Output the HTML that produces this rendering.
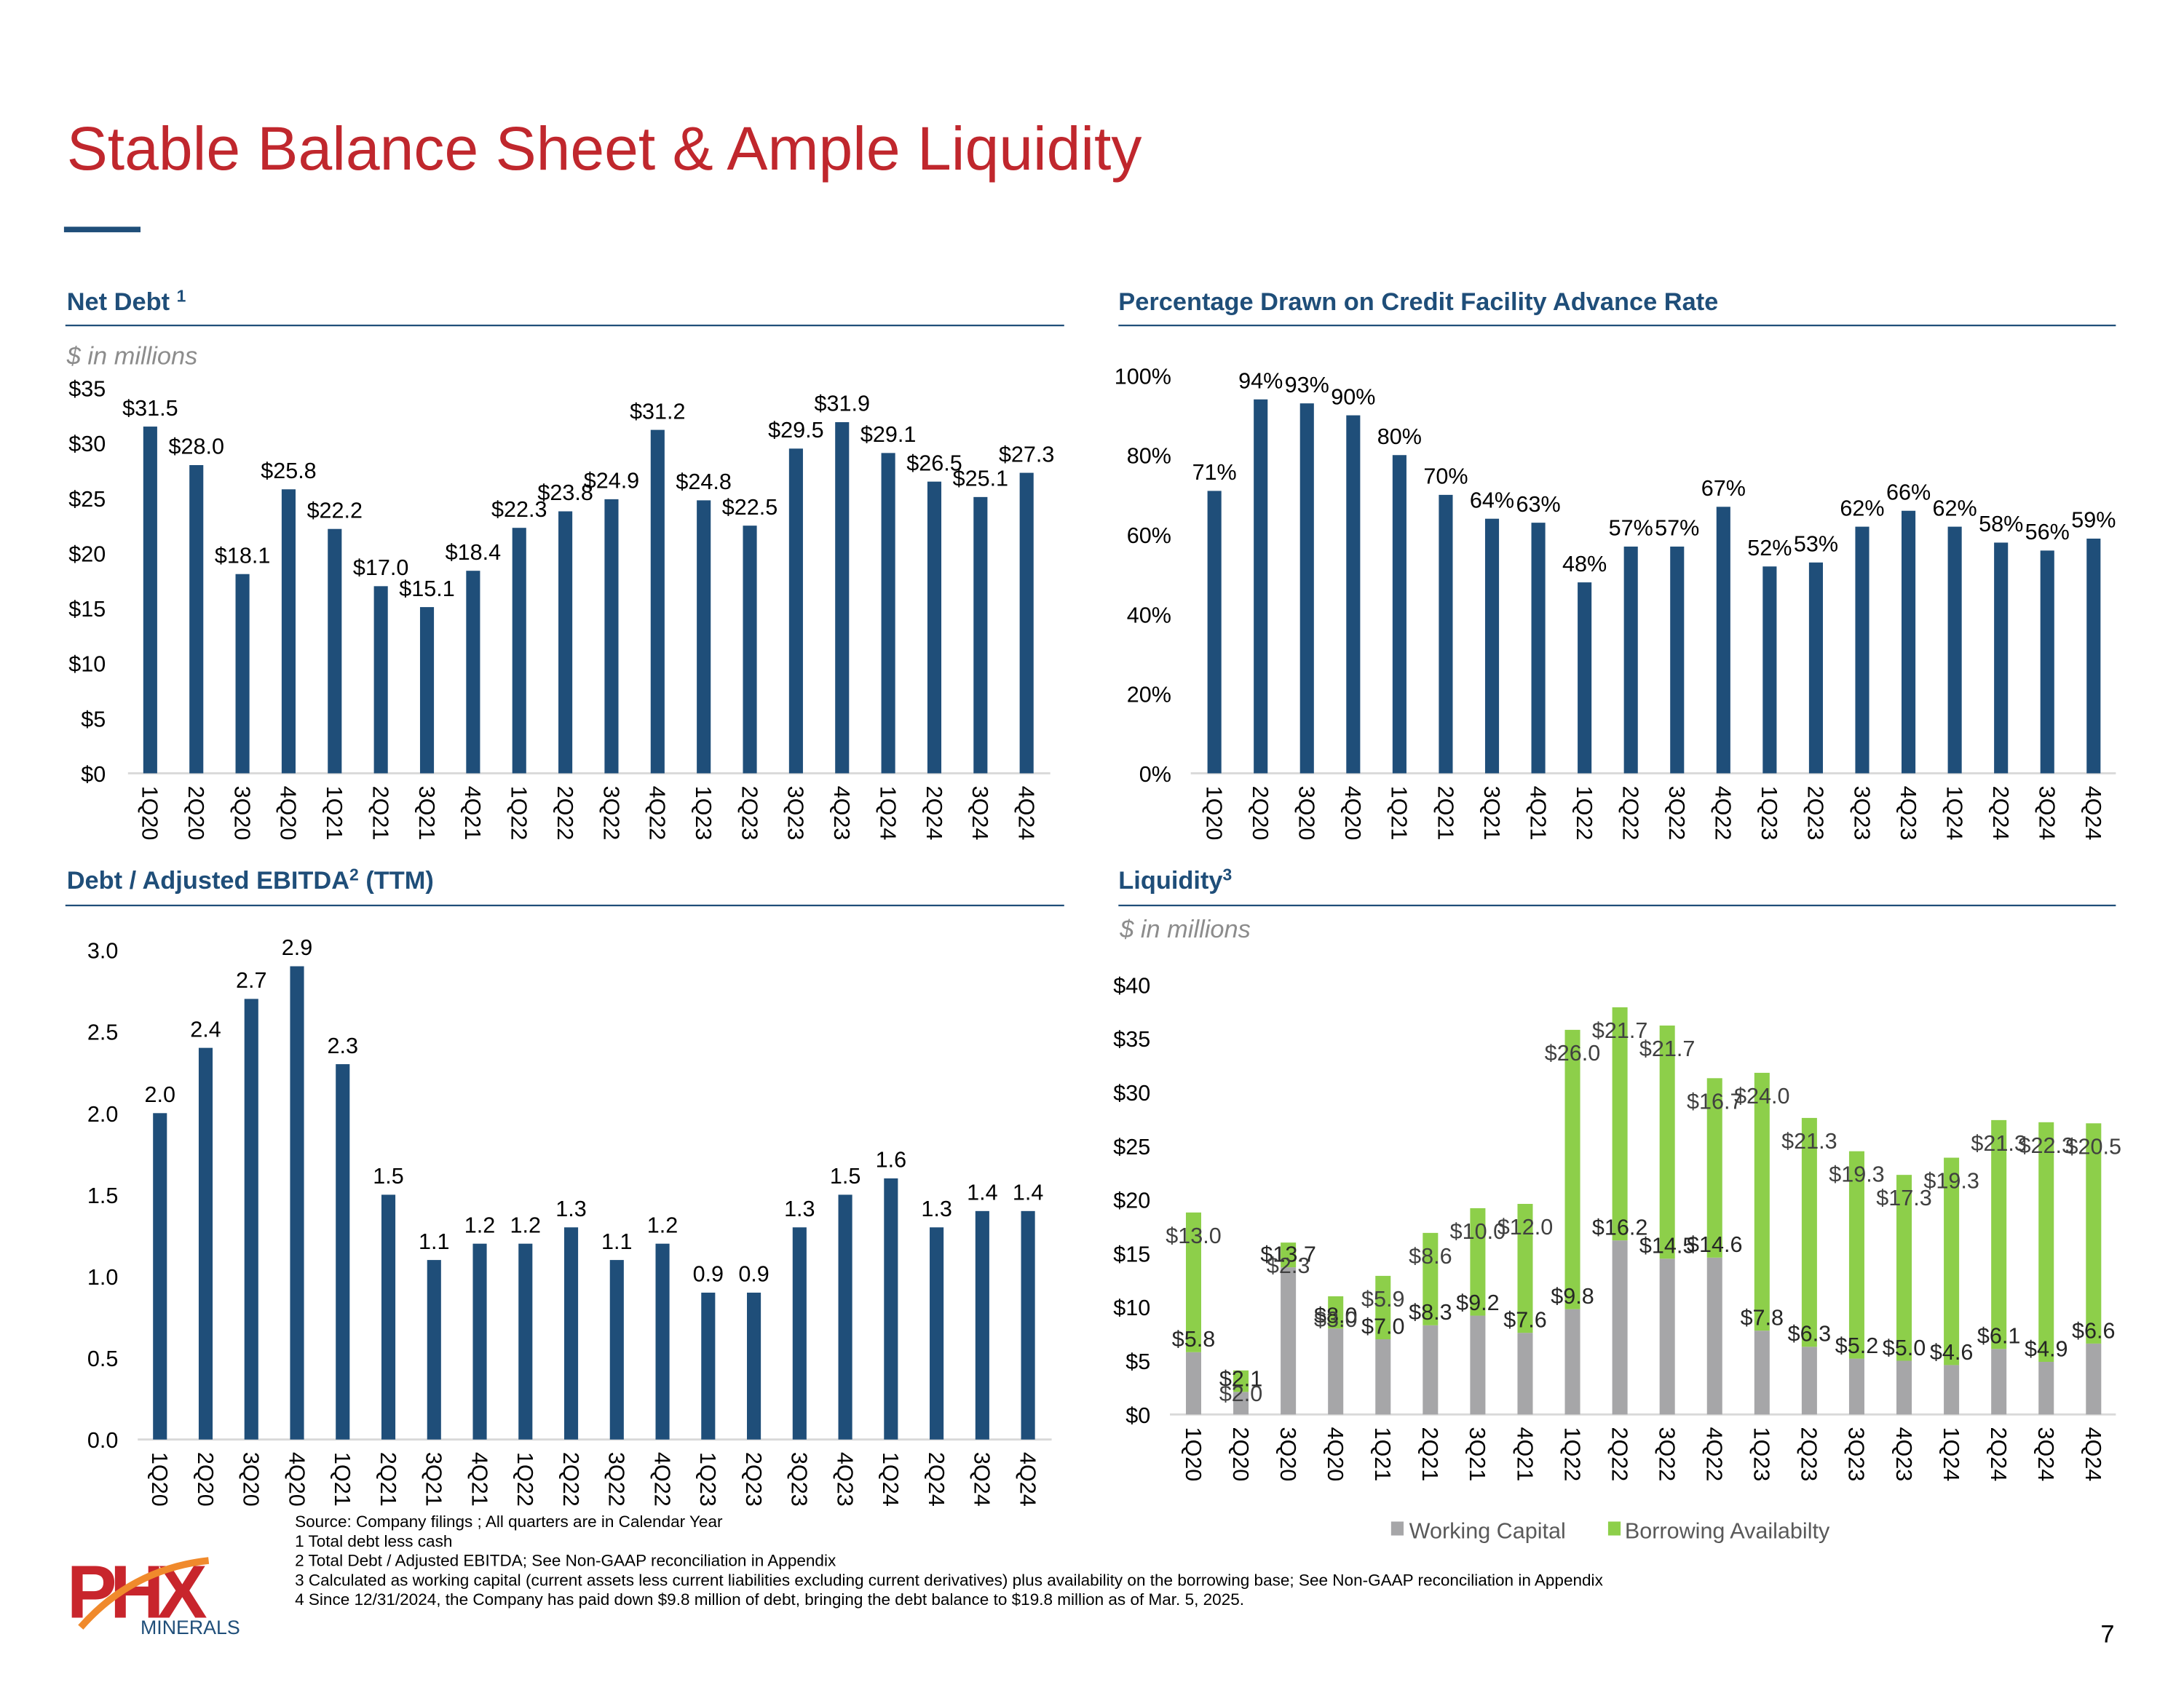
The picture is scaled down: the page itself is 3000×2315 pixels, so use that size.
<!DOCTYPE html>
<html><head><meta charset="utf-8"><style>
html,body{margin:0;padding:0;background:#fff;}
svg{display:block;font-family:"Liberation Sans",Arial,sans-serif;}
</style></head><body>
<svg id="s" width="3000" height="2315" viewBox="0 0 1570 1211.5" xmlns="http://www.w3.org/2000/svg">
<text x="48" y="122" font-size="44" fill="#c0272d">Stable Balance Sheet &amp; Ample Liquidity</text>
<rect x="46" y="163" width="55" height="4" fill="#1f4e79"/>
<text x="48" y="223" font-size="18" font-weight="bold" fill="#1f4e79">Net Debt <tspan font-size="12" dy="-6">1</tspan></text>
<line x1="47" y1="234" x2="765" y2="234" stroke="#1f4e79" stroke-width="1.2"/>
<text x="804" y="223" font-size="18" font-weight="bold" fill="#1f4e79">Percentage Drawn on Credit Facility Advance Rate</text>
<line x1="804" y1="234" x2="1521" y2="234" stroke="#1f4e79" stroke-width="1.2"/>
<text x="48" y="639" font-size="18" font-weight="bold" fill="#1f4e79">Debt / Adjusted EBITDA<tspan font-size="12" dy="-6">2</tspan><tspan dy="6"> (TTM)</tspan></text>
<line x1="47" y1="651" x2="765" y2="651" stroke="#1f4e79" stroke-width="1.2"/>
<text x="804" y="639" font-size="18" font-weight="bold" fill="#1f4e79">Liquidity<tspan font-size="12" dy="-6">3</tspan></text>
<line x1="804" y1="651" x2="1521" y2="651" stroke="#1f4e79" stroke-width="1.2"/>
<text x="48" y="262" font-size="18" font-style="italic" fill="#8c8c8c">$ in millions</text>
<text x="805" y="674" font-size="18" font-style="italic" fill="#8c8c8c">$ in millions</text>
<g id="charts"></g>
<rect x="1000" y="1094" width="9" height="10" fill="#a6a6a8"/>
<text x="1013" y="1106" font-size="16" fill="#595959">Working Capital</text>
<rect x="1156" y="1094" width="9" height="10" fill="#8dcf4a"/>
<text x="1168" y="1106" font-size="16" fill="#595959">Borrowing Availabilty</text>
<g font-size="11.8" fill="#000">
<text x="212" y="1098">Source: Company filings ; All quarters are in Calendar Year</text>
<text x="212" y="1112">1 Total debt less cash</text>
<text x="212" y="1126">2 Total Debt / Adjusted EBITDA;  See Non-GAAP reconciliation in Appendix</text>
<text x="212" y="1140">3 Calculated as working capital (current assets less current liabilities excluding current derivatives) plus availability on the borrowing base; See Non-GAAP reconciliation in Appendix</text>
<text x="212" y="1154">4 Since 12/31/2024, the Company has paid down $9.8 million of debt, bringing the debt balance to $19.8 million as of Mar. 5, 2025.</text>
</g>
<g>
<text x="48" y="1163" font-size="54" font-weight="bold" fill="#c8252c" letter-spacing="-5">PHX</text>
<path d="M58 1170 Q95 1128 150 1122" stroke="#f08a2c" stroke-width="5" fill="none"/>
<text x="101" y="1175" font-size="14" fill="#1f4e79">MINERALS</text>
</g>
<text x="1510" y="1181" font-size="18" fill="#000">7</text>
</svg>
<script>
const quarters=["1Q20","2Q20","3Q20","4Q20","1Q21","2Q21","3Q21","4Q21","1Q22","2Q22","3Q22","4Q22","1Q23","2Q23","3Q23","4Q23","1Q24","2Q24","3Q24","4Q24"];
const netDebt=[31.5,28.0,18.1,25.8,22.2,17.0,15.1,18.4,22.3,23.8,24.9,31.2,24.8,22.5,29.5,31.9,29.1,26.5,25.1,27.3];
const netDebtTicks=[0,5,10,15,20,25,30,35];
const pctDrawn=[71,94,93,90,80,70,64,63,48,57,57,67,52,53,62,66,62,58,56,59];
const pctTicks=[0,20,40,60,80,100];
const debtEbitda=[2.0,2.4,2.7,2.9,2.3,1.5,1.1,1.2,1.2,1.3,1.1,1.2,0.9,0.9,1.3,1.5,1.6,1.3,1.4,1.4];
const ebitdaTicks=[0,0.5,1.0,1.5,2.0,2.5,3.0];
const workingCapital=[5.8,2.1,13.7,8.0,7.0,8.3,9.2,7.6,9.8,16.2,14.5,14.6,7.8,6.3,5.2,5.0,4.6,6.1,4.9,6.6];
const borrowing=[13.0,2.0,2.3,3.0,5.9,8.6,10.0,12.0,26.0,21.7,21.7,16.7,24.0,21.3,19.3,17.3,19.3,21.3,22.3,20.5];
const liqTicks=[0,5,10,15,20,25,30,35,40];

const NS="http://www.w3.org/2000/svg";
const root=document.getElementById('charts');
function mk(tag,attrs,parent,txt){const e=document.createElementNS(NS,tag);for(const k in attrs)e.setAttribute(k,attrs[k]);if(txt!==undefined)e.textContent=txt;(parent||root).appendChild(e);return e;}

function chart(cfg){
  const g=mk('g',{});
  
  
  const y=v=>cfg.y0-(v-cfg.vmin)/(cfg.vmax-cfg.vmin)*(cfg.y0-cfg.y1);
  const x=i=>cfg.x0+i*(cfg.x1-cfg.x0)/(quarters.length-1);
  cfg.ticks.forEach(t=>{
    const tl=mk('text',{x:cfg.tickX,y:y(t)+6,'font-size':16,'text-anchor':'end',fill:'#000'},g,cfg.tickFmt(t));
    
    
  });
  mk('line',{x1:cfg.ax0,x2:cfg.ax1,y1:cfg.y0,y2:cfg.y0,stroke:'#d9d9d9','stroke-width':1.5},g);
  quarters.forEach((q,i)=>{
    const xl=x(i);
    const t=mk('text',{transform:`translate(${xl},${cfg.y0+9}) rotate(90)`,'font-size':16,dy:'0.35em',fill:'#000'},g,q);
    
    
    if(cfg.stack){
      const a=cfg.series[0][i],b=cfg.series[1][i];
      const r1=mk('rect',{x:xl-5.5,y:y(a),width:11,height:cfg.y0-y(a),fill:'#a6a6a8'},g);
      
      
      const r2=mk('rect',{x:xl-5.5,y:y(a+b),width:11,height:y(a)-y(a+b),fill:'#8dcf4a'},g);
      
      
      const l1=mk('text',{x:xl,y:y(a)-4,'font-size':16,'text-anchor':'middle',fill:'#262626'},g,'$'+a.toFixed(1));
      
      
      const l2=mk('text',{x:xl,y:y(a+b)+22,'font-size':16,'text-anchor':'middle',fill:'#404040'},g,'$'+b.toFixed(1));
      
      
    } else {
      const v=cfg.series[i];
      const r=mk('rect',{x:xl-5,y:y(v),width:10,height:cfg.y0-y(v),fill:'#1f4e79'},g);
      
      
      const l=mk('text',{x:xl,y:y(v)-8,'font-size':16,'text-anchor':'middle',fill:'#000'},g,cfg.valFmt(v));
      
      
    }
  });
}
chart({name:'net-debt-chart',series:netDebt,ticks:netDebtTicks,vmin:0,vmax:35,y0:556,y1:279,x0:108,x1:738,ax0:92,ax1:755,tickX:76,tickFmt:t=>'$'+t,valFmt:v=>'$'+v.toFixed(1)});
chart({name:'pct-drawn-chart',series:pctDrawn,ticks:pctTicks,vmin:0,vmax:100,y0:556,y1:270,x0:873,x1:1505,ax0:856,ax1:1521,tickX:842,tickFmt:t=>t+'%',valFmt:v=>v+'%'});
chart({name:'debt-ebitda-chart',series:debtEbitda,ticks:ebitdaTicks,vmin:0,vmax:3,y0:1035,y1:683,x0:115,x1:739,ax0:99,ax1:756,tickX:85,tickFmt:t=>t.toFixed(1),valFmt:v=>v.toFixed(1)});
chart({name:'liquidity-chart',stack:true,series:[workingCapital,borrowing],ticks:liqTicks,vmin:0,vmax:40,y0:1017,y1:708,x0:858,x1:1505,ax0:841,ax1:1521,tickX:827,tickFmt:t=>'$'+t});
</script>
</body></html>
